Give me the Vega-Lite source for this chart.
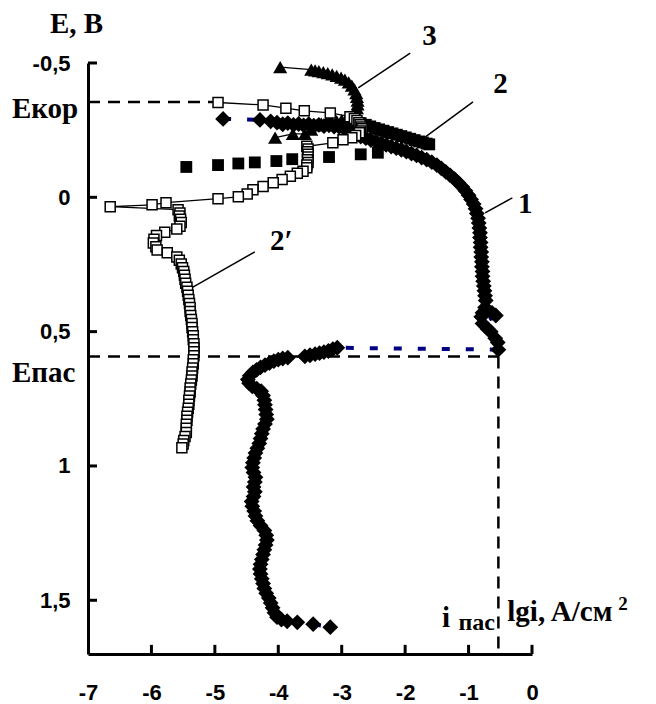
{
  "$schema": "https://vega.github.io/schema/vega-lite/v6.json",
  "width": 444,
  "height": 591,
  "autosize": {"type": "none"},
  "padding": {"left": 88, "top": 63, "right": 124, "bottom": 50},
  "background": "white",
  "config": {"view": {"stroke": null}},
  "datasets": {
    "pts": [
      {"s":"1","x":-4.87,"y":-0.292},{"s":"1","x":-4.29,"y":-0.288},{"s":"1","x":-4.12,"y":-0.283},{"s":"1","x":-4.02,"y":-0.278},{"s":"1","x":-3.93,"y":-0.272},{"s":"1","x":-3.85,"y":-0.276},{"s":"1","x":-3.76,"y":-0.27},{"s":"1","x":-3.68,"y":-0.273},{"s":"1","x":-3.6,"y":-0.268},{"s":"1","x":-3.52,"y":-0.272},{"s":"1","x":-3.44,"y":-0.267},{"s":"1","x":-3.36,"y":-0.27},{"s":"1","x":-3.28,"y":-0.265},{"s":"1","x":-3.2,"y":-0.268},{"s":"1","x":-3.12,"y":-0.263},{"s":"1","x":-3.04,"y":-0.262},{"s":"1","x":-2.96,"y":-0.256},{"s":"1","x":-2.9,"y":-0.248},
      {"s":"1","x":-2.84,"y":-0.242},{"s":"1","x":-2.77,"y":-0.233},{"s":"1","x":-2.7,"y":-0.226},{"s":"1","x":-2.62,"y":-0.22},{"s":"1","x":-2.54,"y":-0.213},{"s":"1","x":-2.46,"y":-0.207},{"s":"1","x":-2.38,"y":-0.201},{"s":"1","x":-2.3,"y":-0.195},{"s":"1","x":-2.22,"y":-0.189},{"s":"1","x":-2.14,"y":-0.183},{"s":"1","x":-2.06,"y":-0.177},{"s":"1","x":-1.98,"y":-0.17},{"s":"1","x":-1.9,"y":-0.163},{"s":"1","x":-1.82,"y":-0.156},{"s":"1","x":-1.74,"y":-0.148},{"s":"1","x":-1.66,"y":-0.14},{"s":"1","x":-1.58,"y":-0.131},{"s":"1","x":-1.5,"y":-0.12},{"s":"1","x":-1.43,"y":-0.108},{"s":"1","x":-1.36,"y":-0.095},{"s":"1","x":-1.29,"y":-0.082},{"s":"1","x":-1.22,"y":-0.068},{"s":"1","x":-1.16,"y":-0.054},{"s":"1","x":-1.1,"y":-0.039},{"s":"1","x":-1.05,"y":-0.024},{"s":"1","x":-1.0,"y":-0.008},{"s":"1","x":-0.96,"y":0.008},{"s":"1","x":-0.92,"y":0.025},{"s":"1","x":-0.89,"y":0.043},{"s":"1","x":-0.87,"y":0.06},{"s":"1","x":-0.85,"y":0.078},{"s":"1","x":-0.84,"y":0.096},{"s":"1","x":-0.83,"y":0.114},{"s":"1","x":-0.82,"y":0.132},{"s":"1","x":-0.82,"y":0.15},{"s":"1","x":-0.81,"y":0.168},{"s":"1","x":-0.81,"y":0.186},{"s":"1","x":-0.8,"y":0.204},{"s":"1","x":-0.8,"y":0.222},{"s":"1","x":-0.79,"y":0.24},{"s":"1","x":-0.79,"y":0.258},{"s":"1","x":-0.78,"y":0.276},{"s":"1","x":-0.78,"y":0.294},{"s":"1","x":-0.77,"y":0.312},{"s":"1","x":-0.76,"y":0.33},{"s":"1","x":-0.75,"y":0.348},{"s":"1","x":-0.74,"y":0.366},{"s":"1","x":-0.73,"y":0.384},{"s":"1","x":-0.74,"y":0.41},{"s":"1","x":-0.78,"y":0.43},{"s":"1","x":-0.8,"y":0.445},{"s":"1","x":-0.63,"y":0.43},{"s":"1","x":-0.57,"y":0.44},{"s":"1","x":-0.78,"y":0.47},{"s":"1","x":-0.7,"y":0.49},{"s":"1","x":-0.65,"y":0.5},{"s":"1","x":-0.58,"y":0.525},{"s":"1","x":-0.54,"y":0.54},{"s":"1","x":-0.53,"y":0.567},
      {"s":"1","x":-3.07,"y":0.56},{"s":"1","x":-3.14,"y":0.565},{"s":"1","x":-3.21,"y":0.572},{"s":"1","x":-3.28,"y":0.576},{"s":"1","x":-3.35,"y":0.58},{"s":"1","x":-3.42,"y":0.584},{"s":"1","x":-3.5,"y":0.588},{"s":"1","x":-3.58,"y":0.592},{"s":"1","x":-3.85,"y":0.597},{"s":"1","x":-3.93,"y":0.6},{"s":"1","x":-4.0,"y":0.604},{"s":"1","x":-4.07,"y":0.61},{"s":"1","x":-4.14,"y":0.617},{"s":"1","x":-4.21,"y":0.625},{"s":"1","x":-4.28,"y":0.633},{"s":"1","x":-4.34,"y":0.642},{"s":"1","x":-4.4,"y":0.652},{"s":"1","x":-4.45,"y":0.664},{"s":"1","x":-4.48,"y":0.678},{"s":"1","x":-4.46,"y":0.692},{"s":"1","x":-4.41,"y":0.704},{"s":"1","x":-4.34,"y":0.712},{"s":"1","x":-4.27,"y":0.722},{"s":"1","x":-4.24,"y":0.738},{"s":"1","x":-4.22,"y":0.755},{"s":"1","x":-4.21,"y":0.772},{"s":"1","x":-4.2,"y":0.79},
      {"s":"1","x":-4.19,"y":0.808},{"s":"1","x":-4.18,"y":0.826},{"s":"1","x":-4.21,"y":0.844},{"s":"1","x":-4.24,"y":0.862},{"s":"1","x":-4.26,"y":0.88},{"s":"1","x":-4.28,"y":0.898},{"s":"1","x":-4.3,"y":0.916},{"s":"1","x":-4.33,"y":0.934},{"s":"1","x":-4.36,"y":0.952},{"s":"1","x":-4.38,"y":0.97},{"s":"1","x":-4.4,"y":0.988},{"s":"1","x":-4.41,"y":1.006},{"s":"1","x":-4.39,"y":1.024},{"s":"1","x":-4.36,"y":1.042},{"s":"1","x":-4.37,"y":1.06},{"s":"1","x":-4.39,"y":1.078},{"s":"1","x":-4.37,"y":1.096},{"s":"1","x":-4.39,"y":1.114},{"s":"1","x":-4.42,"y":1.132},{"s":"1","x":-4.41,"y":1.15},{"s":"1","x":-4.38,"y":1.168},{"s":"1","x":-4.36,"y":1.186},{"s":"1","x":-4.33,"y":1.204},{"s":"1","x":-4.28,"y":1.222},{"s":"1","x":-4.22,"y":1.24},{"s":"1","x":-4.19,"y":1.258},{"s":"1","x":-4.18,"y":1.276},{"s":"1","x":-4.2,"y":1.294},{"s":"1","x":-4.22,"y":1.312},{"s":"1","x":-4.24,"y":1.33},{"s":"1","x":-4.26,"y":1.348},{"s":"1","x":-4.28,"y":1.366},{"s":"1","x":-4.29,"y":1.384},{"s":"1","x":-4.28,"y":1.402},{"s":"1","x":-4.26,"y":1.42},{"s":"1","x":-4.24,"y":1.438},{"s":"1","x":-4.22,"y":1.456},{"s":"1","x":-4.19,"y":1.474},{"s":"1","x":-4.15,"y":1.492},{"s":"1","x":-4.12,"y":1.51},{"s":"1","x":-4.09,"y":1.528},{"s":"1","x":-4.06,"y":1.546},{"s":"1","x":-4.02,"y":1.563},{"s":"1","x":-3.95,"y":1.572},{"s":"1","x":-3.86,"y":1.578},{"s":"1","x":-3.7,"y":1.582},{"s":"1","x":-3.45,"y":1.589},{"s":"1","x":-3.18,"y":1.6},
      {"s":"2","x":-5.45,"y":-0.113},{"s":"2","x":-4.95,"y":-0.12},{"s":"2","x":-4.63,"y":-0.126},{"s":"2","x":-4.37,"y":-0.13},{"s":"2","x":-4.03,"y":-0.135},{"s":"2","x":-3.78,"y":-0.142},{"s":"2","x":-3.2,"y":-0.15},{"s":"2","x":-2.7,"y":-0.16},{"s":"2","x":-2.43,"y":-0.166},
      {"s":"2","x":-2.78,"y":-0.283},{"s":"2","x":-2.7,"y":-0.276},{"s":"2","x":-2.62,"y":-0.27},{"s":"2","x":-2.55,"y":-0.264},{"s":"2","x":-2.48,"y":-0.258},{"s":"2","x":-2.41,"y":-0.253},{"s":"2","x":-2.34,"y":-0.248},{"s":"2","x":-2.27,"y":-0.243},{"s":"2","x":-2.2,"y":-0.238},{"s":"2","x":-2.13,"y":-0.233},{"s":"2","x":-2.06,"y":-0.228},{"s":"2","x":-1.99,"y":-0.223},{"s":"2","x":-1.92,"y":-0.218},{"s":"2","x":-1.85,"y":-0.213},{"s":"2","x":-1.78,"y":-0.208},{"s":"2","x":-1.72,"y":-0.204},{"s":"2","x":-1.66,"y":-0.2},{"s":"2","x":-1.62,"y":-0.197},
      {"s":"3","x":-4.05,"y":-0.222},{"s":"3","x":-3.77,"y":-0.236},{"s":"3","x":-3.58,"y":-0.236},{"s":"3","x":-3.48,"y":-0.252},{"s":"3","x":-3.4,"y":-0.268},{"s":"3","x":-3.32,"y":-0.274},{"s":"3","x":-3.24,"y":-0.278},{"s":"3","x":-3.16,"y":-0.281},{"s":"3","x":-3.08,"y":-0.284},{"s":"3","x":-3.0,"y":-0.287},{"s":"3","x":-2.93,"y":-0.29},{"s":"3","x":-2.86,"y":-0.296},{"s":"3","x":-2.81,"y":-0.305},{"s":"3","x":-2.78,"y":-0.318},{"s":"3","x":-2.76,"y":-0.332},{"s":"3","x":-2.75,"y":-0.346},{"s":"3","x":-2.75,"y":-0.36},{"s":"3","x":-2.76,"y":-0.374},{"s":"3","x":-2.77,"y":-0.388},{"s":"3","x":-2.8,"y":-0.402},{"s":"3","x":-2.84,"y":-0.416},{"s":"3","x":-2.89,"y":-0.428},{"s":"3","x":-2.95,"y":-0.438},{"s":"3","x":-3.01,"y":-0.446},{"s":"3","x":-3.08,"y":-0.452},{"s":"3","x":-3.15,"y":-0.458},{"s":"3","x":-3.22,"y":-0.462},{"s":"3","x":-3.29,"y":-0.466},{"s":"3","x":-3.36,"y":-0.47},{"s":"3","x":-3.42,"y":-0.473},{"s":"3","x":-3.48,"y":-0.475},{"s":"3","x":-3.97,"y":-0.485},
      {"s":"2p","x":-4.95,"y":-0.353},{"s":"2p","x":-4.24,"y":-0.344},{"s":"2p","x":-3.88,"y":-0.332},{"s":"2p","x":-3.59,"y":-0.322},{"s":"2p","x":-3.18,"y":-0.314},{"s":"2p","x":-2.87,"y":-0.3},{"s":"2p","x":-2.8,"y":-0.293},{"s":"2p","x":-2.76,"y":-0.286},{"s":"2p","x":-2.73,"y":-0.278},{"s":"2p","x":-2.71,"y":-0.27},{"s":"2p","x":-2.69,"y":-0.262},{"s":"2p","x":-2.68,"y":-0.255},{"s":"2p","x":-2.7,"y":-0.247},{"s":"2p","x":-2.72,"y":-0.24},{"s":"2p","x":-2.78,"y":-0.23},{"s":"2p","x":-2.84,"y":-0.222},{"s":"2p","x":-2.98,"y":-0.214},{"s":"2p","x":-3.14,"y":-0.203},{"s":"2p","x":-3.55,"y":-0.19},{"s":"2p","x":-3.53,"y":-0.18},{"s":"2p","x":-3.54,"y":-0.17},{"s":"2p","x":-3.53,"y":-0.16},{"s":"2p","x":-3.53,"y":-0.15},{"s":"2p","x":-3.54,"y":-0.14},{"s":"2p","x":-3.53,"y":-0.13},{"s":"2p","x":-3.55,"y":-0.12},{"s":"2p","x":-3.55,"y":-0.11},{"s":"2p","x":-3.61,"y":-0.097},{"s":"2p","x":-3.7,"y":-0.09},{"s":"2p","x":-3.81,"y":-0.078},{"s":"2p","x":-3.94,"y":-0.066},{"s":"2p","x":-4.08,"y":-0.054},{"s":"2p","x":-4.24,"y":-0.04},{"s":"2p","x":-4.4,"y":-0.028},{"s":"2p","x":-4.49,"y":-0.012},{"s":"2p","x":-4.63,"y":-0.002},{"s":"2p","x":-4.95,"y":0.005},{"s":"2p","x":-5.77,"y":0.02},{"s":"2p","x":-5.99,"y":0.028},{"s":"2p","x":-6.65,"y":0.035},{"s":"2p","x":-5.58,"y":0.046},{"s":"2p","x":-5.55,"y":0.058},{"s":"2p","x":-5.56,"y":0.07},{"s":"2p","x":-5.54,"y":0.082},{"s":"2p","x":-5.53,"y":0.094},{"s":"2p","x":-5.55,"y":0.108},{"s":"2p","x":-5.6,"y":0.118},{"s":"2p","x":-5.79,"y":0.13},{"s":"2p","x":-5.92,"y":0.142},{"s":"2p","x":-5.96,"y":0.156},{"s":"2p","x":-5.97,"y":0.17},{"s":"2p","x":-5.93,"y":0.184},{"s":"2p","x":-5.91,"y":0.196},{"s":"2p","x":-5.75,"y":0.206},{"s":"2p","x":-5.6,"y":0.222},{"s":"2p","x":-5.56,"y":0.234},{"s":"2p","x":-5.53,"y":0.248},{"s":"2p","x":-5.51,"y":0.262},{"s":"2p","x":-5.49,"y":0.276},{"s":"2p","x":-5.48,"y":0.29},{"s":"2p","x":-5.47,"y":0.305},{"s":"2p","x":-5.46,"y":0.32},{"s":"2p","x":-5.44,"y":0.335},{"s":"2p","x":-5.43,"y":0.35},{"s":"2p","x":-5.42,"y":0.365},{"s":"2p","x":-5.41,"y":0.38},{"s":"2p","x":-5.4,"y":0.395},{"s":"2p","x":-5.39,"y":0.41},{"s":"2p","x":-5.39,"y":0.425},{"s":"2p","x":-5.38,"y":0.44},{"s":"2p","x":-5.37,"y":0.455},{"s":"2p","x":-5.36,"y":0.47},{"s":"2p","x":-5.36,"y":0.485},{"s":"2p","x":-5.35,"y":0.5},{"s":"2p","x":-5.34,"y":0.515},{"s":"2p","x":-5.34,"y":0.53},{"s":"2p","x":-5.33,"y":0.545},{"s":"2p","x":-5.33,"y":0.56},{"s":"2p","x":-5.33,"y":0.575},{"s":"2p","x":-5.33,"y":0.59},{"s":"2p","x":-5.34,"y":0.605},{"s":"2p","x":-5.34,"y":0.62},{"s":"2p","x":-5.35,"y":0.635},{"s":"2p","x":-5.36,"y":0.65},{"s":"2p","x":-5.36,"y":0.665},{"s":"2p","x":-5.37,"y":0.68},{"s":"2p","x":-5.38,"y":0.695},{"s":"2p","x":-5.39,"y":0.71},{"s":"2p","x":-5.39,"y":0.725},{"s":"2p","x":-5.4,"y":0.74},{"s":"2p","x":-5.41,"y":0.755},{"s":"2p","x":-5.41,"y":0.77},{"s":"2p","x":-5.42,"y":0.785},{"s":"2p","x":-5.43,"y":0.8},{"s":"2p","x":-5.44,"y":0.815},{"s":"2p","x":-5.44,"y":0.83},{"s":"2p","x":-5.45,"y":0.845},{"s":"2p","x":-5.45,"y":0.86},{"s":"2p","x":-5.45,"y":0.875},{"s":"2p","x":-5.47,"y":0.89},{"s":"2p","x":-5.49,"y":0.905},{"s":"2p","x":-5.5,"y":0.918},{"s":"2p","x":-5.52,"y":0.932}
    ],
    "refs": [
      {"x":-7,"x2":-4.95,"y":-0.355,"y2":-0.355},
      {"x":-7,"x2":-0.53,"y":0.593,"y2":0.593},
      {"x":-0.53,"x2":-0.53,"y":0.593,"y2":1.7}
    ],
    "leaders": [
      {"x":-0.31,"y":0.002,"x2":-0.74,"y2":0.058},
      {"x":-0.93,"y":-0.355,"x2":-1.68,"y2":-0.225},
      {"x":-1.92,"y":-0.537,"x2":-2.74,"y2":-0.407},
      {"x":-4.37,"y":0.203,"x2":-5.36,"y2":0.336}
    ],
    "ticks": [
      {"x":-6,"x2":-6,"y":1.7,"y2":1.666},{"x":-5,"x2":-5,"y":1.7,"y2":1.666},{"x":-4,"x2":-4,"y":1.7,"y2":1.666},{"x":-3,"x2":-3,"y":1.7,"y2":1.666},{"x":-2,"x2":-2,"y":1.7,"y2":1.666},{"x":-1,"x2":-1,"y":1.7,"y2":1.666},{"x":0,"x2":0,"y":1.7,"y2":1.666},
      {"x":-7,"x2":-6.858,"y":-0.5,"y2":-0.5},{"x":-7,"x2":-6.858,"y":0,"y2":0},{"x":-7,"x2":-6.858,"y":0.5,"y2":0.5},{"x":-7,"x2":-6.858,"y":1,"y2":1},{"x":-7,"x2":-6.858,"y":1.5,"y2":1.5}
    ],
    "bigtext": [
      {"t":"E, B","x":-7.6,"y":-0.612},
      {"t":"Eкор","x":-8.2,"y":-0.296},
      {"t":"Eпас","x":-8.2,"y":0.686},
      {"t":"1","x":-0.22,"y":0.058},
      {"t":"2","x":-0.61,"y":-0.388},
      {"t":"3","x":-1.73,"y":-0.567},
      {"t":"2′","x":-4.13,"y":0.195},
      {"t":"lgi, A/см","x":-0.39,"y":1.578},
      {"t":"i","x":-1.42,"y":1.6}
    ],
    "subtext": [
      {"t":"пас","x":-1.16,"y":1.612}
    ],
    "suptext": [
      {"t":"2","x":1.36,"y":1.538}
    ]
  },
  "layer": [
    {
      "data": {"name": "refs"},
      "mark": {"type": "rule", "color": "black", "strokeWidth": 2.5, "strokeDash": [12, 8]},
      "encoding": {
        "x": {"field": "x", "type": "quantitative", "scale": {"domain": [-7, 0], "nice": false, "zero": false},
              "axis": {"orient": "bottom", "values": [-7,-6,-5,-4,-3,-2,-1,0], "title": null, "grid": false, "domainColor": "black", "domainWidth": 3, "ticks": false, "labelPadding": 28, "labelFont": "Liberation Sans", "labelFontWeight": "bold", "labelFontSize": 22, "labelColor": "black", "labelExpr": "toString(datum.value)", "labelFlush": false, "labelOverlap": false}},
        "x2": {"field": "x2"},
        "y": {"field": "y", "type": "quantitative", "scale": {"domain": [-0.5, 1.7], "reverse": true, "nice": false, "zero": false},
              "axis": {"orient": "left", "values": [-0.5, 0, 0.5, 1, 1.5], "title": null, "grid": false, "domainColor": "black", "domainWidth": 3, "ticks": false, "labelPadding": 18, "labelFont": "Liberation Sans", "labelFontWeight": "bold", "labelFontSize": 22, "labelColor": "black", "labelExpr": "replace(toString(datum.value), '.', ',')", "labelFlush": false, "labelOverlap": false}},
        "y2": {"field": "y2"}
      }
    },
    {
      "data": {"name": "leaders"},
      "mark": {"type": "rule", "color": "black", "strokeWidth": 1.5},
      "encoding": {"x": {"field": "x", "type": "quantitative"}, "y": {"field": "y", "type": "quantitative"}, "x2": {"field": "x2"}, "y2": {"field": "y2"}}
    },
    {
      "data": {"name": "ticks"},
      "mark": {"type": "rule", "color": "black", "strokeWidth": 3},
      "encoding": {"x": {"field": "x", "type": "quantitative"}, "y": {"field": "y", "type": "quantitative"}, "x2": {"field": "x2"}, "y2": {"field": "y2"}}
    },
    {
      "data": {"name": "pts"},
      "transform": [{"filter": "datum.s == '2p'"}],
      "mark": {"type": "line", "color": "black", "strokeWidth": 1.3},
      "encoding": {"x": {"field": "x", "type": "quantitative"}, "y": {"field": "y", "type": "quantitative"}, "order": {"value": null}}
    },
    {
      "data": {"name": "pts"},
      "transform": [{"filter": "datum.s == '3'"}],
      "mark": {"type": "line", "color": "black", "strokeWidth": 1.3},
      "encoding": {"x": {"field": "x", "type": "quantitative"}, "y": {"field": "y", "type": "quantitative"}, "order": {"value": null}}
    },
    {
      "data": {"name": "pts"},
      "transform": [{"filter": "datum.s == '1'"}],
      "mark": {"type": "line", "color": "#000080", "strokeWidth": 4, "strokeDash": [8, 16]},
      "encoding": {"x": {"field": "x", "type": "quantitative"}, "y": {"field": "y", "type": "quantitative"}, "order": {"value": null}}
    },
    {
      "data": {"name": "pts"},
      "transform": [{"filter": "datum.s == '2'"}],
      "mark": {"type": "point", "shape": "square", "filled": true, "color": "black", "size": 140, "opacity": 1},
      "encoding": {"x": {"field": "x", "type": "quantitative"}, "y": {"field": "y", "type": "quantitative"}}
    },
    {
      "data": {"name": "pts"},
      "transform": [{"filter": "datum.s == '3'"}],
      "mark": {"type": "point", "shape": "triangle-up", "filled": true, "color": "black", "size": 200, "opacity": 1},
      "encoding": {"x": {"field": "x", "type": "quantitative"}, "y": {"field": "y", "type": "quantitative"}}
    },
    {
      "data": {"name": "pts"},
      "transform": [{"filter": "datum.s == '1'"}],
      "mark": {"type": "point", "shape": "diamond", "filled": true, "color": "black", "size": 250, "opacity": 1},
      "encoding": {"x": {"field": "x", "type": "quantitative"}, "y": {"field": "y", "type": "quantitative"}}
    },
    {
      "data": {"name": "pts"},
      "transform": [{"filter": "datum.s == '2p'"}],
      "mark": {"type": "point", "shape": "square", "filled": true, "fill": "white", "stroke": "black", "strokeWidth": 1.5, "size": 100, "opacity": 1},
      "encoding": {"x": {"field": "x", "type": "quantitative"}, "y": {"field": "y", "type": "quantitative"}}
    },
    {
      "data": {"name": "bigtext"},
      "mark": {"type": "text", "font": "Liberation Serif", "fontWeight": "bold", "fontSize": 29, "align": "left", "baseline": "alphabetic", "color": "black"},
      "encoding": {"x": {"field": "x", "type": "quantitative"}, "y": {"field": "y", "type": "quantitative"}, "text": {"field": "t"}}
    },
    {
      "data": {"name": "subtext"},
      "mark": {"type": "text", "font": "Liberation Serif", "fontWeight": "bold", "fontSize": 24, "align": "left", "baseline": "alphabetic", "color": "black"},
      "encoding": {"x": {"field": "x", "type": "quantitative"}, "y": {"field": "y", "type": "quantitative"}, "text": {"field": "t"}}
    },
    {
      "data": {"name": "suptext"},
      "mark": {"type": "text", "font": "Liberation Serif", "fontWeight": "bold", "fontSize": 19, "align": "left", "baseline": "alphabetic", "color": "black"},
      "encoding": {"x": {"field": "x", "type": "quantitative"}, "y": {"field": "y", "type": "quantitative"}, "text": {"field": "t"}}
    }
  ]
}
